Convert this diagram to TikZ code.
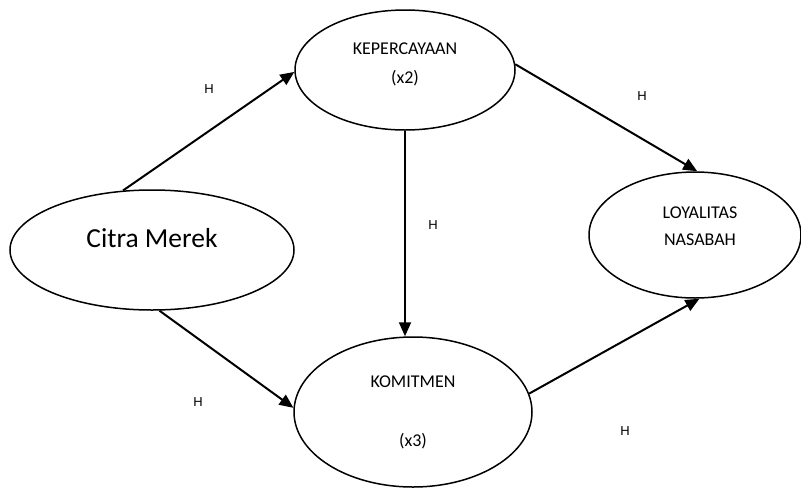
\documentclass[tikz,border=0pt]{standalone}
\usepackage{fontspec}
\setmainfont{Carlito}
\newfontfamily\hfont{Liberation Sans}
\usetikzlibrary{shapes.geometric,arrows.meta}
\tikzset{var/.style={ellipse, draw, line width=1.5pt, inner sep=0pt}, link/.style={-{Triangle[length=14pt,width=12pt]}, line width=2pt}, hyp/.style={font=\hfont\fontsize{13}{15}\selectfont}, small/.style={font=\fontsize{18}{29}\selectfont, align=center}}

\begin{document}
\begin{tikzpicture}[x=1pt,y=-1pt]
    \useasboundingbox (0,0) rectangle (801,488);
    \node[var,minimum width=284,minimum height=120,label={[font=\fontsize{27.5}{33}\selectfont,yshift=12pt]center:Citra Merek}] (citra) at (152,250) {};
    \node[var,minimum width=220,minimum height=120,label={[small,yshift=5.5pt]center:{KEPERCAYAAN\\(x2)}}] (kep) at (405,70) {};
    \node[var,minimum width=212,minimum height=126,label={[small,font=\fontsize{18}{27}\selectfont,xshift=5pt,yshift=8.5pt]center:{LOYALITAS\\NASABAH}}] (loy) at (695,235) {};
    \node[var,minimum width=238,minimum height=150,label={[small]center:{KOMITMEN\\[30pt](x3)}}] (kom) at (413,412) {};
    \draw[link] (citra.116) -- (kep.181);
    \draw[link] (kep.3) -- (loy.88);
    \draw[link] (kep.south) -- (kep.south |- kom.north);
    \draw[link] (citra.277) -- (kom.178);
    \draw[link] (kom.9) -- (loy.274);
    \node[hyp] (h1) at (209,89) {H};
    \node[hyp] (h2) at (642,96) {H};
    \node[hyp] (h3) at (433,225) {H};
    \node[hyp] (h4) at (198,402) {H};
    \node[hyp] (h5) at (625,431) {H};
\end{tikzpicture}
\end{document}
